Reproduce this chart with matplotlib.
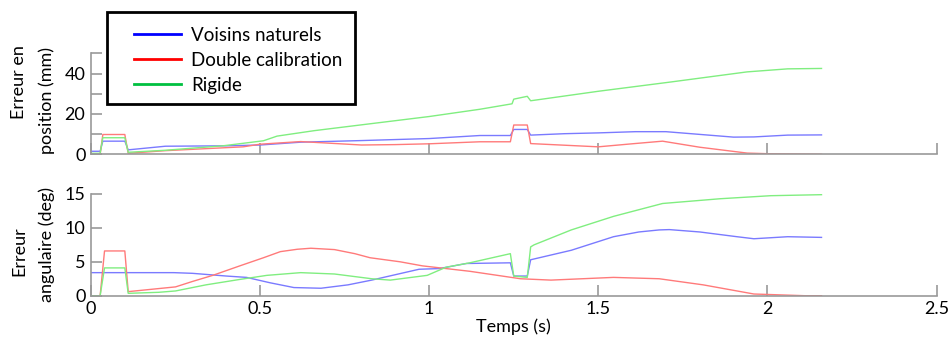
import numpy as np
import matplotlib.pyplot as plt
from matplotlib.lines import Line2D
from matplotlib.patches import Rectangle

# --- Erreur en position (mm) ---
pos_blue_t = [0, 0.027, 0.035, 0.10, 0.11, 0.22, 0.4, 0.5, 0.62, 0.8, 1.0, 1.15, 1.24,
              1.25, 1.29, 1.30, 1.4, 1.5, 1.61, 1.70, 1.9, 1.96, 2.06, 2.16]
pos_blue_v = [1.5, 1.5, 6.5, 6.5, 2.2, 4.0, 4.2, 4.6, 6.0, 6.8, 7.8, 9.3, 9.3,
              12.3, 12.3, 9.5, 10.2, 10.6, 11.2, 11.2, 8.5, 8.6, 9.5, 9.6]
pos_red_t = [0, 0.027, 0.035, 0.10, 0.11, 0.22, 0.45, 0.5, 0.62, 0.8, 0.9, 1.0, 1.15, 1.24,
             1.25, 1.29, 1.30, 1.5, 1.60, 1.69, 1.80, 1.94, 2.0, 2.16]
pos_red_v = [0, 0, 9.8, 9.8, 0.5, 1.8, 3.7, 5.0, 6.3, 4.6, 4.8, 5.2, 6.2, 6.2,
             14.5, 14.5, 5.3, 3.7, 5.2, 6.5, 3.5, 0.6, 0.3, 0]
pos_green_t = [0, 0.027, 0.035, 0.10, 0.11, 0.22, 0.39, 0.51, 0.55, 0.66, 0.82, 1.0, 1.15,
               1.245, 1.25, 1.29, 1.30, 1.5, 1.71, 1.94, 2.06, 2.16]
pos_green_v = [0.5, 0.5, 8.2, 8.2, 1.0, 2.0, 4.2, 6.7, 9.0, 11.7, 15.0, 18.7, 22.3,
               25.0, 27.3, 28.7, 26.5, 31.2, 35.7, 40.8, 42.3, 42.5]

# --- Erreur angulaire (deg) ---
ang_blue_t = [0, 0.245, 0.3, 0.4, 0.46, 0.53, 0.6, 0.68, 0.76, 0.83, 0.97, 1.03, 1.11, 1.24,
              1.25, 1.29, 1.30, 1.42, 1.545, 1.62, 1.68, 1.71, 1.80, 1.91, 1.96, 2.06, 2.16]
ang_blue_v = [3.4, 3.4, 3.3, 2.9, 2.7, 1.9, 1.2, 1.1, 1.6, 2.3, 3.9, 4.0, 4.75, 4.85,
              2.9, 2.9, 5.3, 6.7, 8.7, 9.4, 9.7, 9.75, 9.4, 8.7, 8.4, 8.7, 8.6]
ang_red_t = [0, 0.027, 0.04, 0.10, 0.11, 0.25, 0.30, 0.36, 0.44, 0.51, 0.56, 0.61, 0.65, 0.72,
             0.78, 0.825, 0.914, 0.98, 1.12, 1.27, 1.36, 1.545, 1.68, 1.81, 1.96, 2.11, 2.16]
ang_red_v = [0, 0, 6.6, 6.6, 0.6, 1.3, 2.1, 3.0, 4.4, 5.6, 6.5, 6.85, 7.0, 6.8,
             6.2, 5.6, 5.0, 4.4, 3.6, 2.5, 2.3, 2.7, 2.5, 1.6, 0.25, 0, 0]
ang_green_t = [0, 0.027, 0.04, 0.10, 0.11, 0.2, 0.25, 0.34, 0.44, 0.52, 0.62, 0.72, 0.83,
               0.885, 0.994, 1.05, 1.12, 1.24, 1.25, 1.29, 1.30, 1.31, 1.42, 1.545, 1.69,
               1.86, 2.01, 2.16]
ang_green_v = [0, 0, 4.1, 4.1, 0.35, 0.5, 0.7, 1.6, 2.4, 3.0, 3.4, 3.2, 2.5,
               2.3, 3.0, 4.2, 4.85, 6.2, 2.9, 2.7, 7.2, 7.5, 9.7, 11.7, 13.6,
               14.3, 14.75, 14.9]

labels = ['Voisins naturels', 'Double calibration', 'Rigide']
colors = ['#0000ff', '#ff0000', '#00c040']
plot_colors = ['#7a7aff', '#ff7a7a', '#80ee80']

plt.rcParams['font.family'] = ['Lato', 'DejaVu Sans']
fs = 13
W, H = 952, 342

fig = plt.figure(figsize=(9.52, 3.42), dpi=100)
ax1 = fig.add_axes([91 / W, 1 - 154.3 / H, 845.5 / W, 101 / H])
ax2 = fig.add_axes([91 / W, 1 - 295.7 / H, 845.5 / W, 101.7 / H])

ax1.plot(pos_blue_t, pos_blue_v, color=plot_colors[0], lw=1.0)
ax1.plot(pos_red_t, pos_red_v, color=plot_colors[1], lw=1.0)
ax1.plot(pos_green_t, pos_green_v, color=plot_colors[2], lw=1.0)

ax2.plot(ang_blue_t, ang_blue_v, color=plot_colors[0], lw=1.0)
ax2.plot(ang_red_t, ang_red_v, color=plot_colors[1], lw=1.0)
ax2.plot(ang_green_t, ang_green_v, color=plot_colors[2], lw=1.0)

for ax in (ax1, ax2):
    ax.set_xlim(0, 2.5)
    ax.set_xticks([0, 0.5, 1, 1.5, 2, 2.5])
    for s in ('top', 'right'):
        ax.spines[s].set_visible(False)
    for s in ('left', 'bottom'):
        ax.spines[s].set_color('#999999')
        ax.spines[s].set_linewidth(1.2)
    ax.tick_params(direction='in', length=8, width=1.2, color='#999999',
                   labelsize=fs, pad=4)

ax1.set_ylim(0, 50)
ax1.set_yticks([0, 10, 20, 30, 40, 50])
ax1.set_yticklabels(['0', '', '20', '', '40', ''])
ax1.tick_params(axis='x', labelbottom=False)

ax2.set_ylim(0, 15)
ax2.set_yticks([0, 5, 10, 15])
ax2.set_xticklabels(['0', '0.5', '1', '1.5', '2', '2.5'])
ax2.set_xlabel('Temps (s)', fontsize=fs, labelpad=1)

# y labels, two lines each, placed like the original
fig.text(19 / W, 1 - 82 / H, 'Erreur en', rotation=90, fontsize=fs,
         ha='center', va='center')
fig.text(47 / W, 1 - 101 / H, 'position (mm)', rotation=90, fontsize=fs,
         ha='center', va='center')
fig.text(19 / W, 1 - 251 / H, 'Erreur', rotation=90, fontsize=fs,
         ha='center', va='center')
fig.text(47 / W, 1 - 244 / H, 'angulaire (deg)', rotation=90, fontsize=fs,
         ha='center', va='center')

# legend box drawn separately so its padding matches the original
box = Rectangle((107 / W, 1 - 104 / H), 248 / W, 92 / H, transform=fig.transFigure,
                facecolor='white', edgecolor='black', linewidth=2, zorder=5)
fig.patches.append(box)

handles = [Line2D([], [], color=c, lw=2) for c in colors]
leg = fig.legend(handles, labels, loc='upper left',
                 bbox_to_anchor=(134 / W, 1 - 27 / H), fontsize=13.5,
                 frameon=False, handlelength=2.5, borderpad=0,
                 labelspacing=0.42, handletextpad=0.55, borderaxespad=0)
leg.set_zorder(6)

fig.savefig('out.png', dpi=100)
